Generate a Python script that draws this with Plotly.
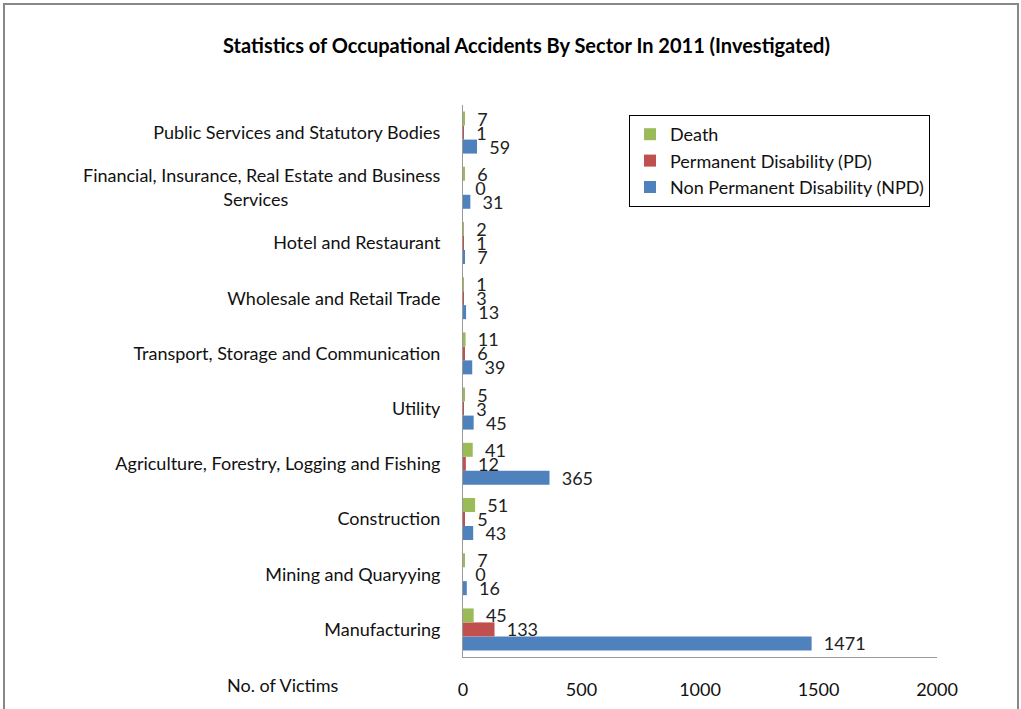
import plotly.graph_objects as go

categories = [
    "Manufacturing",
    "Mining and Quaryying",
    "Construction",
    "Agriculture, Forestry, Logging and Fishing",
    "Utility",
    "Transport, Storage and Communication",
    "Wholesale and Retail Trade",
    "Hotel and Restaurant",
    "Financial, Insurance, Real Estate and Business<br>Services" + "\u00a0" * 33,
    "Public Services and Statutory Bodies",
]
death = [45, 7, 51, 41, 5, 11, 1, 2, 6, 7]
pd_vals = [133, 0, 5, 12, 3, 6, 3, 1, 0, 1]
npd = [1471, 16, 43, 365, 45, 39, 13, 7, 31, 59]
x_ticks = [0, 500, 1000, 1500, 2000]

FONT = "Lato"
W, H = 1021, 709
L, R, T, B = 463, 84, 105, 52
pw, ph = W - L - R, H - T - B

fig = go.Figure()
for name, vals, col in [
    ("Non Permanent Disability (NPD)", npd, "#4F81BD"),
    ("Permanent Disability (PD)", pd_vals, "#C0504D"),
    ("Death", death, "#9BBB59"),
]:
    fig.add_trace(go.Bar(
        y=categories, x=vals, name=name, orientation="h",
        marker=dict(color=col, line=dict(width=0)),
        text=["  " + str(v) for v in vals], textposition="outside",
        textfont=dict(family=FONT, size=18, color="#222"),
        cliponaxis=False, constraintext="none",
    ))

fig.update_layout(
    width=W, height=H,
    margin=dict(l=L, r=R, t=T, b=B, autoexpand=False),
    paper_bgcolor="white", plot_bgcolor="white",
    barmode="group", bargap=0.24, bargroupgap=0,
    font=dict(family=FONT, size=18, color="#111"),
    title=dict(text="<b>Statistics of Occupational Accidents By Sector In 2011 (Investigated)</b>",
               x=(218 + 835) / 2 / W, xanchor="center", y=1 - 46 / H, yanchor="middle",
               font=dict(family=FONT, size=20, color="#000")),
    legend=dict(traceorder="reversed", x=(629 - L) / pw, y=1 - (115 - T) / ph,
                xanchor="left", yanchor="top", bordercolor="#000", borderwidth=1,
                bgcolor="white", font=dict(family=FONT, size=18, color="#111"),
                itemwidth=30, tracegroupgap=0),
    xaxis=dict(range=[0, 2000], tickvals=x_ticks, ticktext=[str(v) for v in x_ticks],
               showgrid=False, zeroline=False, showline=True, linecolor="#999",
               linewidth=1, ticks="", ticklabelstandoff=16, fixedrange=True),
    yaxis=dict(showgrid=False, showline=True, linecolor="#999", linewidth=1,
               ticks="", ticklabelstandoff=18, fixedrange=True),
    annotations=[dict(text="No. of Victims", xref="paper", yref="paper",
                      x=(282 - L) / pw, y=-(685 - (T + ph)) / ph, xanchor="center",
                      yanchor="middle", showarrow=False,
                      font=dict(family=FONT, size=18, color="#111"))],
    shapes=[dict(type="rect", xref="paper", yref="paper",
                 x0=(4 - L) / pw, x1=(1018 - L) / pw,
                 y0=-(720 - (T + ph)) / ph, y1=1 + (T - 4) / ph,
                 line=dict(color="#888", width=2), fillcolor="rgba(0,0,0,0)", layer="below")],
)

fig.write_html("out.html", config={"displayModeBar": False},
               post_script="document.body.style.margin='0px';")
